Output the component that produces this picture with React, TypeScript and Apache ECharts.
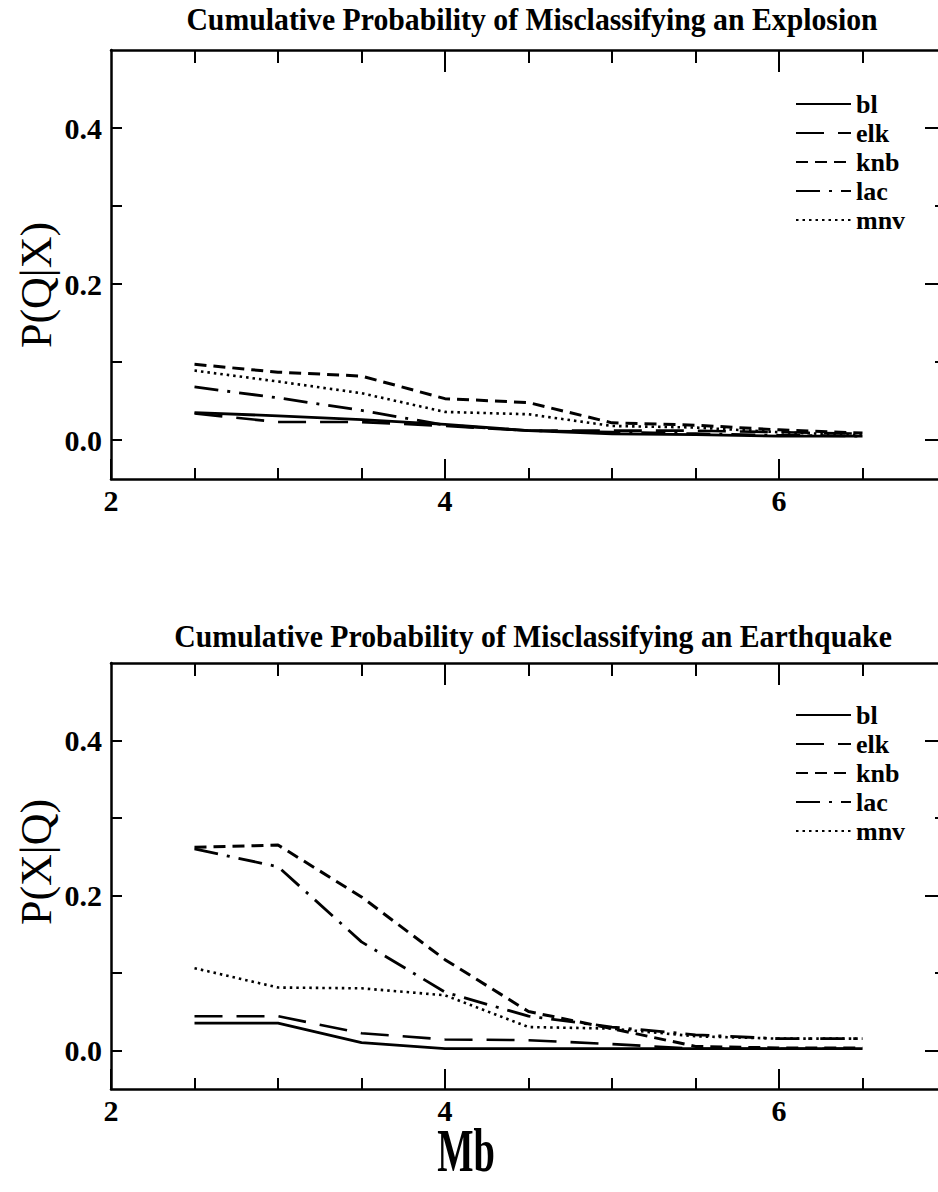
import React, { useEffect, useRef } from "react";
import * as echarts from "echarts";

// Magnitude values (Mb) at which both panels are sampled
const mb = [2.5, 3, 3.5, 4, 4.5, 5, 5.5, 6, 6.5];
const stations = ["bl", "elk", "knb", "lac", "mnv"];

// Panel 1: P(Q|X), cumulative probability of misclassifying an explosion
const explosionBl = [0.035, 0.031, 0.026, 0.02, 0.012, 0.008, 0.007, 0.005, 0.005];
const explosionElk = [0.034, 0.023, 0.023, 0.018, 0.012, 0.012, 0.012, 0.01, 0.008];
const explosionKnb = [0.097, 0.087, 0.082, 0.053, 0.048, 0.022, 0.019, 0.013, 0.009];
const explosionLac = [0.068, 0.054, 0.038, 0.019, 0.012, 0.01, 0.008, 0.006, 0.005];
const explosionMnv = [0.089, 0.075, 0.06, 0.036, 0.033, 0.018, 0.016, 0.01, 0.006];

// Panel 2: P(X|Q), cumulative probability of misclassifying an earthquake
const quakeBl = [0.035, 0.035, 0.01, 0.002, 0.002, 0.002, 0.002, 0.002, 0.002];
const quakeElk = [0.044, 0.044, 0.022, 0.014, 0.013, 0.008, 0.002, 0.002, 0.002];
const quakeKnb = [0.262, 0.265, 0.198, 0.117, 0.05, 0.028, 0.005, 0.003, 0.003];
const quakeLac = [0.26, 0.237, 0.14, 0.075, 0.044, 0.03, 0.02, 0.015, 0.015];
const quakeMnv = [0.106, 0.081, 0.08, 0.071, 0.03, 0.028, 0.018, 0.015, 0.015];

const explosionSeries = [explosionBl, explosionElk, explosionKnb, explosionLac, explosionMnv];
const quakeSeries = [quakeBl, quakeElk, quakeKnb, quakeLac, quakeMnv];

const panelTitles = [
  "Cumulative Probability of Misclassifying an Explosion",
  "Cumulative Probability of Misclassifying an Earthquake",
];
const yNames = ["P(Q|X)", "P(X|Q)"];
const xName = "Mb";

// Axis ticks and labels
const xLabelValues = [2, 4, 6];
const xMajorTicks = [2, 4, 6];
const xTopMajorTicks = [4, 6];
const xMinorTicks = [2.5, 3, 3.5, 4.5, 5, 5.5, 6.5];
const yLabelValues = [0, 0.2, 0.4];
const yLeftTicks = [0, 0.1, 0.2, 0.3, 0.4];
const yMajorTicks = [0, 0.2, 0.4];
const yMinorTicks = [0.1, 0.3];

const X_MIN = 2;
const X_MAX = 7;
const Y_MIN = -0.05;
const Y_MAX = 0.5;

const INK = "#000";
const SERIF = '"Liberation Serif", "DejaVu Serif", serif';

const lineStyles: Record<string, any> = {
  bl: { type: "solid", width: 2.8 },
  elk: { type: [28, 14], width: 2.6 },
  knb: { type: [12, 7], width: 3 },
  lac: { type: [24, 9, 3, 9], width: 2.8 },
  mnv: { type: [2.5, 4], width: 2.6 },
};

const grids = [
  { left: 111, top: 50, width: 835, height: 429, containLabel: false, outerBoundsMode: "none" },
  { left: 111, top: 663, width: 835, height: 426, containLabel: false, outerBoundsMode: "none" },
];

function xAxesFor(g: number) {
  const base = {
    gridIndex: g,
    type: "value",
    min: X_MIN,
    max: X_MAX,
    splitLine: { show: false },
  };
  return [
    {
      ...base,
      position: "bottom",
      axisLine: { show: true, onZero: false, lineStyle: { color: INK, width: 2.5 } },
      axisTick: { show: true, inside: true, length: 20, customValues: xMajorTicks, lineStyle: { color: INK, width: 2 } },
      axisLabel: {
        show: true,
        customValues: xLabelValues,
        margin: 6,
        color: INK,
        fontFamily: SERIF,
        fontWeight: "bold",
        fontSize: 30,
      },
    },
    {
      ...base,
      position: "bottom",
      axisLine: { show: false, onZero: false },
      axisTick: { show: true, inside: true, length: 11, customValues: xMinorTicks, lineStyle: { color: INK, width: 2 } },
      axisLabel: { show: false },
    },
    {
      ...base,
      position: "top",
      axisLine: { show: true, onZero: false, lineStyle: { color: INK, width: 2.5 } },
      axisTick: { show: true, inside: true, length: 22, customValues: xTopMajorTicks, lineStyle: { color: INK, width: 2 } },
      axisLabel: { show: false },
    },
    {
      ...base,
      position: "top",
      axisLine: { show: false, onZero: false },
      axisTick: { show: true, inside: true, length: 13, customValues: xMinorTicks, lineStyle: { color: INK, width: 2 } },
      axisLabel: { show: false },
    },
  ];
}

function yAxesFor(g: number) {
  const base = {
    gridIndex: g,
    type: "value",
    min: Y_MIN,
    max: Y_MAX,
    splitLine: { show: false },
  };
  return [
    {
      ...base,
      position: "left",
      axisLine: { show: true, onZero: false, lineStyle: { color: INK, width: 2.5 } },
      axisTick: { show: true, inside: true, length: 11, customValues: yLeftTicks, lineStyle: { color: INK, width: 2 } },
      axisLabel: {
        show: true,
        customValues: yLabelValues,
        formatter: (v: number) => v.toFixed(1),
        margin: 9,
        color: INK,
        fontFamily: SERIF,
        fontWeight: "bold",
        fontSize: 30,
      },
    },
    {
      ...base,
      position: "right",
      axisLine: { show: true, onZero: false, lineStyle: { color: INK, width: 2.5 } },
      axisTick: { show: true, inside: true, length: 21, customValues: yMajorTicks, lineStyle: { color: INK, width: 2 } },
      axisLabel: { show: false },
    },
    {
      ...base,
      position: "right",
      axisLine: { show: false, onZero: false },
      axisTick: { show: true, inside: true, length: 11, customValues: yMinorTicks, lineStyle: { color: INK, width: 2 } },
      axisLabel: { show: false },
    },
  ];
}

function seriesFor(g: number, values: number[][]) {
  return stations.map((name, i) => ({
    name,
    type: "line",
    xAxisIndex: g * 4,
    yAxisIndex: g * 3,
    data: mb.map((x, k) => [x, values[i][k]]),
    symbol: "none",
    showSymbol: false,
    smooth: false,
    lineStyle: { color: INK, ...lineStyles[name], cap: "butt", join: "round" },
    itemStyle: { color: INK },
    emphasis: { disabled: true },
  }));
}

function legendFor(top: number) {
  return {
    data: stations,
    orient: "vertical",
    left: 790,
    top,
    itemWidth: 55,
    itemHeight: 14,
    itemGap: 3,
    selectedMode: false,
    itemStyle: { opacity: 0, borderWidth: 0 },
    textStyle: {
      color: INK,
      fontFamily: SERIF,
      fontWeight: "bold",
      fontSize: 26,
      padding: [0, 0, 0, 0],
    },
  };
}

export default function App() {
  const ref = useRef<HTMLDivElement>(null);

  useEffect(() => {
    if (!ref.current) return;
    const chart = echarts.init(ref.current, undefined, { renderer: "svg" });
    const option: any = {
      animation: false,
      backgroundColor: "#fff",
      grid: grids,
      xAxis: [...xAxesFor(0), ...xAxesFor(1)],
      yAxis: [...yAxesFor(0), ...yAxesFor(1)],
      legend: [legendFor(86), legendFor(697)],
      series: [...seriesFor(0, explosionSeries), ...seriesFor(1, quakeSeries)],
      graphic: [
        {
          type: "text",
          x: 532,
          y: 19,
          scaleX: 0.93,
          style: {
            text: panelTitles[0],
            fill: INK,
            font: `bold 32px ${SERIF}`,
            align: "center",
            verticalAlign: "middle",
          },
        },
        {
          type: "text",
          x: 533,
          y: 636,
          scaleX: 0.93,
          style: {
            text: panelTitles[1],
            fill: INK,
            font: `bold 32px ${SERIF}`,
            align: "center",
            verticalAlign: "middle",
          },
        },
        {
          type: "text",
          x: 36,
          y: 285,
          rotation: Math.PI / 2,
          style: {
            text: yNames[0],
            fill: INK,
            font: `44px ${SERIF}`,
            align: "center",
            verticalAlign: "middle",
          },
        },
        {
          type: "text",
          x: 36,
          y: 862,
          rotation: Math.PI / 2,
          style: {
            text: yNames[1],
            fill: INK,
            font: `44px ${SERIF}`,
            align: "center",
            verticalAlign: "middle",
          },
        },
        {
          type: "text",
          x: 466,
          y: 1150,
          scaleX: 0.62,
          style: {
            text: xName,
            fill: INK,
            font: `bold 62px ${SERIF}`,
            align: "center",
            verticalAlign: "middle",
          },
        },
      ],
    };
    chart.setOption(option);
    return () => chart.dispose();
  }, []);

  return (
    <div
      ref={ref}
      style={{ position: "absolute", left: 0, top: 0, width: 938, height: 1192, background: "#fff" }}
    />
  );
}
